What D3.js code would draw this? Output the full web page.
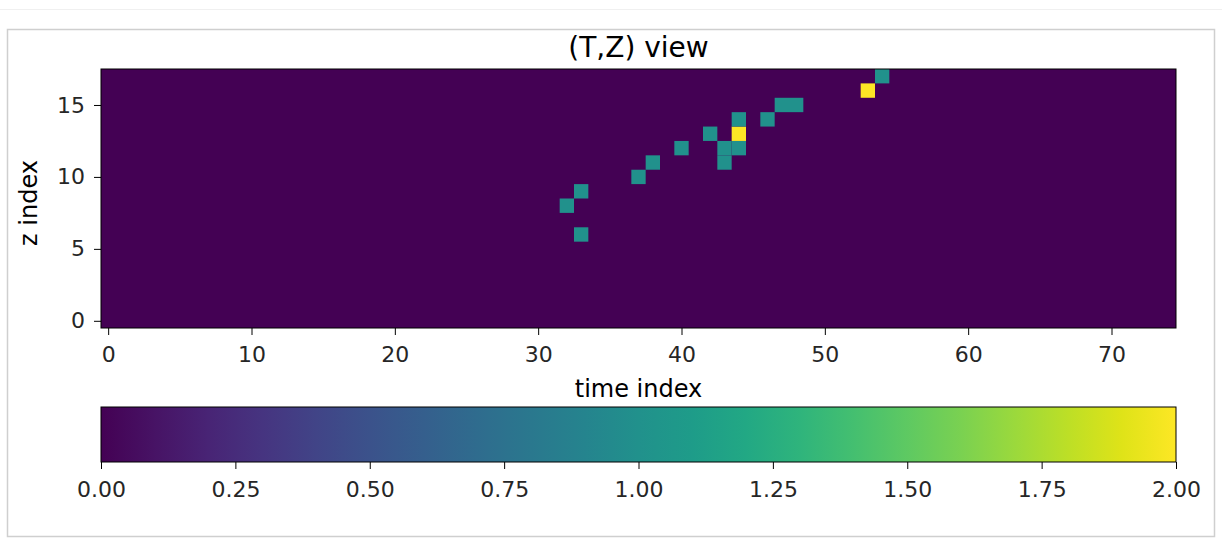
<!DOCTYPE html>
<html><head><meta charset="utf-8">
<script src="https://cdn.jsdelivr.net/npm/d3@7"></script>
<style>
html,body{margin:0;padding:0;background:#fff;}
svg{display:block;font-family:"DejaVu Sans",sans-serif;}
</style></head>
<body>
<svg id="c" width="1222" height="552"></svg>
<script>
// Data
const nT = 75;            // time indices 0..74
const nZ = 18;            // z indices 0..17
// non-zero cells: [time, z, value]
const cellTimes  = [33, 32, 33, 37, 38, 40, 42, 43, 44, 43, 44, 44, 46, 47, 48, 53, 54];
const cellZs     = [ 6,  8,  9, 10, 11, 12, 13, 12, 12, 11, 13, 14, 14, 15, 15, 16, 17];
const cellValues = [ 1,  1,  1,  1,  1,  1,  1,  1,  1,  1,  2,  1,  1,  1,  1,  2,  1];
const xTicks = [0, 10, 20, 30, 40, 50, 60, 70];
const yTicks = [0, 5, 10, 15];
const cbTicks = [0, 0.25, 0.5, 0.75, 1.0, 1.25, 1.5, 1.75, 2.0];
const vmin = 0, vmax = 2;

const svg = d3.select("#c");

// notebook decoration
svg.append("line").attr("x1",0).attr("x2",1222).attr("y1",9.5).attr("y2",9.5).attr("stroke","#f0f0f0");
svg.append("rect").attr("x",7.5).attr("y",29.5).attr("width",1207).attr("height",507)
  .attr("fill","#fff").attr("stroke","#cfcfcf").attr("stroke-width",1.5);

const L = 101, R = 1176, T = 69, B = 328;
const x = d3.scaleLinear().domain([-0.5, nT - 0.5]).range([L, R]);
const y = d3.scaleLinear().domain([-0.5, nZ - 0.5]).range([B, T]);
const color = d3.scaleSequential(d3.interpolateViridis).domain([vmin, vmax]);

const g = svg.append("g");
g.append("rect").attr("x", x(-0.5)).attr("y", y(nZ - 0.5))
  .attr("width", x(nT - 0.5) - x(-0.5)).attr("height", y(-0.5) - y(nZ - 0.5))
  .attr("fill", color(0));

const cells = cellTimes.map((t, i) => ({t, z: cellZs[i], v: cellValues[i]}));
g.selectAll("rect.cell").data(cells).enter().append("rect").attr("class","cell")
  .attr("x", d => x(d.t - 0.5)).attr("y", d => y(d.z + 0.5))
  .attr("width", d => x(d.t + 0.5) - x(d.t - 0.5))
  .attr("height", d => y(d.z - 0.5) - y(d.z + 0.5))
  .attr("fill", d => color(d.v));

g.append("rect").attr("x", L).attr("y", T).attr("width", R - L).attr("height", B - T)
  .attr("fill","none").attr("stroke","#000").attr("stroke-width",1);

function styleAxis(sel){
  sel.attr("font-family","DejaVu Sans").attr("font-size",22);
  sel.select(".domain").remove();
  sel.selectAll(".tick line").attr("stroke","#000").attr("stroke-width",1);
  sel.selectAll(".tick text").attr("fill","#262626");
}

const xAxis = d3.axisBottom(x).tickValues(xTicks).tickSize(7).tickPadding(11).tickFormat(d3.format("d"));
svg.append("g").attr("transform",`translate(0,${B})`).call(xAxis).call(styleAxis);
const yAxis = d3.axisLeft(y).tickValues(yTicks).tickSize(7).tickPadding(9).tickFormat(d3.format("d"));
svg.append("g").attr("transform",`translate(${L},0)`).call(yAxis).call(styleAxis);

svg.append("text").attr("x",(L+R)/2).attr("y",57).attr("text-anchor","middle")
  .style("font-size","28px").attr("fill","#000").text("(T,Z) view");
svg.append("text").attr("x",(L+R)/2).attr("y",397).attr("text-anchor","middle")
  .style("font-size","24px").attr("fill","#000").text("time index");
svg.append("text").attr("transform",`translate(37,203) rotate(-90)`).attr("text-anchor","middle")
  .style("font-size","24px").attr("fill","#000").text("z index");

// colorbar
const cbT = 407, cbB = 462;
const cx = d3.scaleLinear().domain([vmin, vmax]).range([L, R]);
const defs = svg.append("defs");
const grad = defs.append("linearGradient").attr("id","vir").attr("x1","0%").attr("x2","100%");
d3.range(0, 1.0001, 0.05).forEach(s => grad.append("stop").attr("offset", (s*100)+"%").attr("stop-color", d3.interpolateViridis(s)));
svg.append("rect").attr("x", L).attr("y", cbT).attr("width", R - L).attr("height", cbB - cbT)
  .attr("fill","url(#vir)").attr("stroke","#000").attr("stroke-width",1);
const cAxis = d3.axisBottom(cx).tickValues(cbTicks).tickSize(7).tickPadding(12).tickFormat(d3.format(".2f"));
svg.append("g").attr("transform",`translate(0,${cbB})`).call(cAxis).call(styleAxis);
</script>
</body></html>
